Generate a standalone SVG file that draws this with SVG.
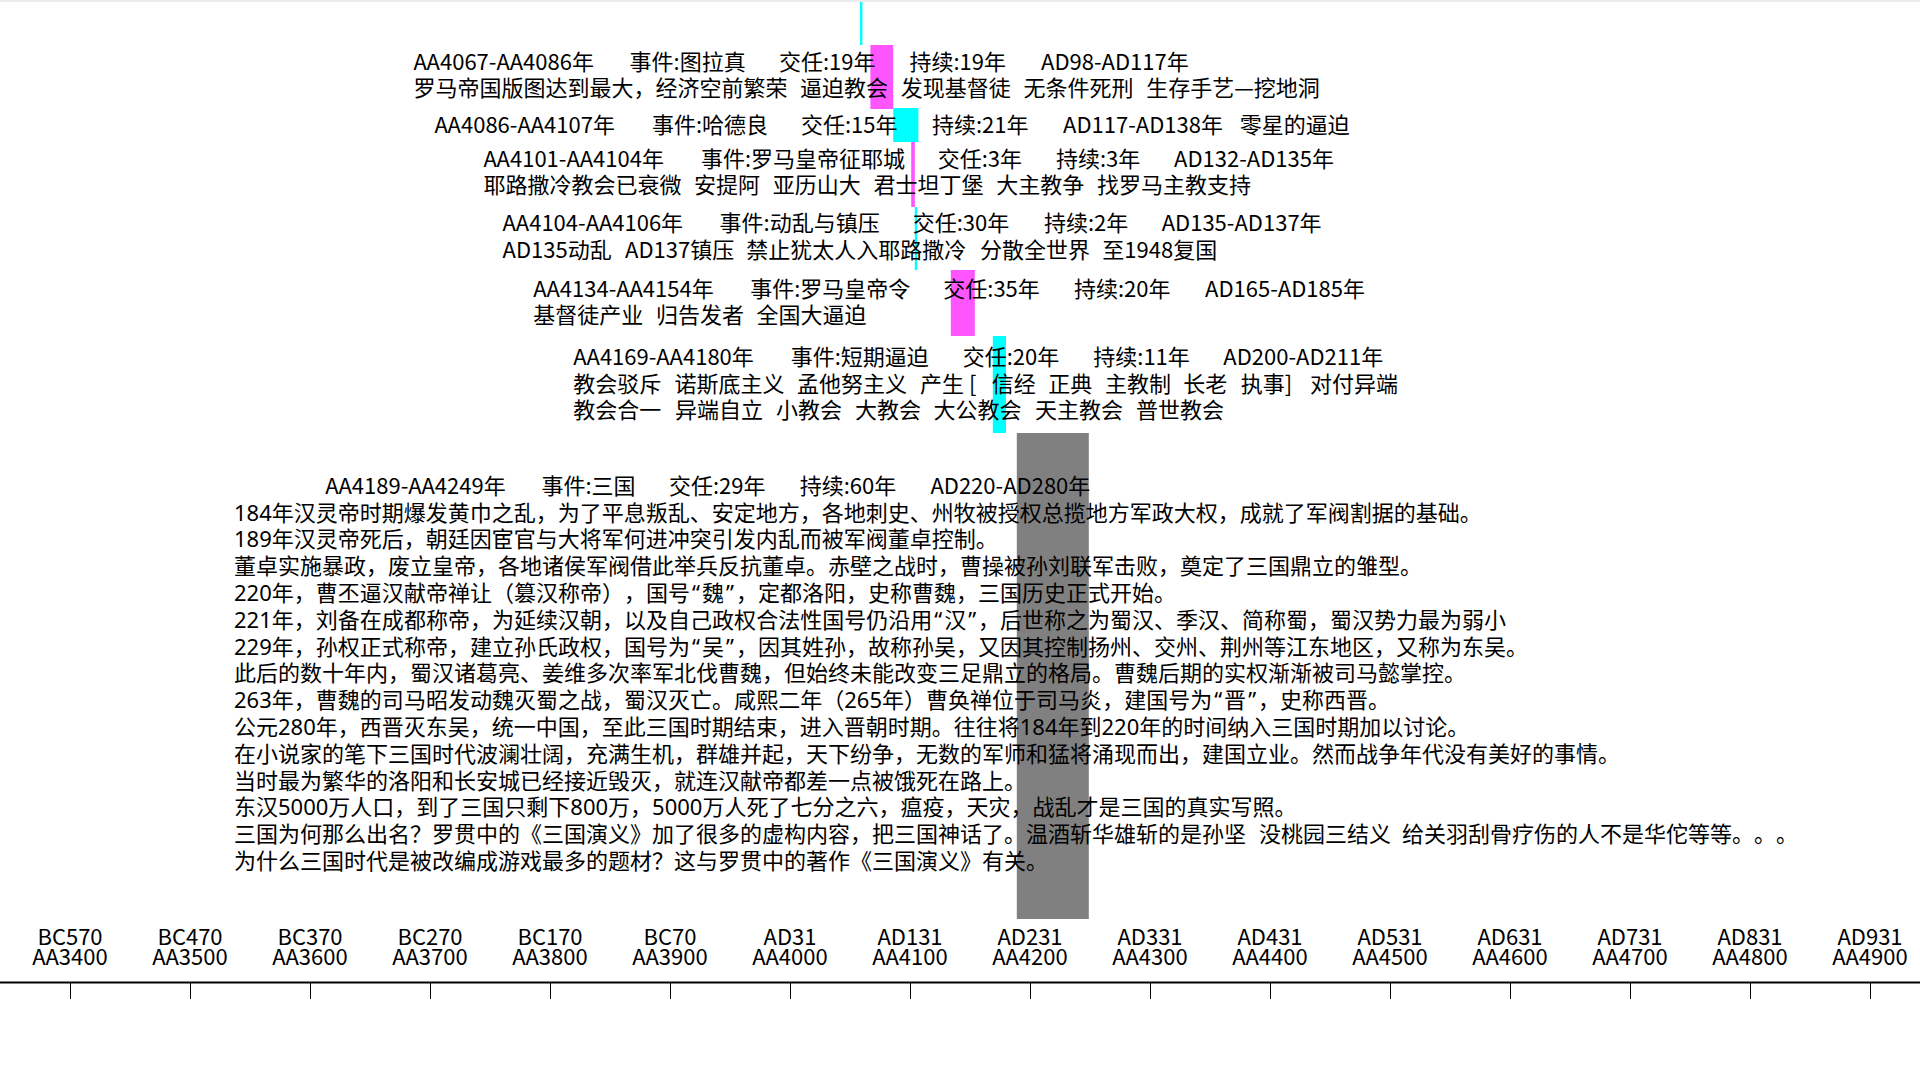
<svg xmlns="http://www.w3.org/2000/svg" width="1920" height="1080" viewBox="0 0 1920 1080">
<style>
text{font-family:"Noto Sans CJK SC","Noto Sans",sans-serif;font-size:22px;fill:#000;text-spacing-trim:space-all}
.p{font-family:"Noto Sans","Noto Sans CJK SC",sans-serif}
.ax{text-anchor:middle}
.mg{fill:#ff55ff}
.cy{fill:#00ffff}
.gr{fill:#808080}
.tick{stroke:#000;stroke-width:1}
</style>
<rect x="0" y="0" width="1920" height="1080" fill="#fff"/>
<rect x="860" y="0" width="2.4" height="45" class="cy"/>
<rect x="0" y="0" width="1920" height="2" fill="#ececec"/>

<g id="ev-trajan">
<rect x="870.4" y="45" width="22.8" height="64" class="mg"/>
<text y="70"><tspan x="413.4">AA4067-AA4086年</tspan><tspan x="629.6">事件:图拉真</tspan><tspan x="778.9">交任:19年</tspan><tspan x="909.4">持续:19年</tspan><tspan x="1041">AD98-AD117年</tspan></text>
<text y="96"><tspan x="413.4">罗马帝国版图达到最大，经济空前繁荣</tspan><tspan x="800.1">逼迫教会</tspan><tspan x="900.8">发现基督徒</tspan><tspan x="1023.5">无条件死刑</tspan><tspan x="1146.2">生存手艺—挖地洞</tspan></text>
</g>

<g id="ev-hadrian">
<rect x="893.2" y="108" width="25.2" height="34" class="cy"/>
<text y="133"><tspan x="434.4">AA4086-AA4107年</tspan><tspan x="652">事件:哈德良</tspan><tspan x="801">交任:15年</tspan><tspan x="932">持续:21年</tspan><tspan x="1063">AD117-AD138年</tspan><tspan x="1239.7">零星的逼迫</tspan></text>
</g>

<g id="ev-jerusalem">
<rect x="911.2" y="142" width="3.6" height="65" class="mg"/>
<text y="167"><tspan x="483.4">AA4101-AA4104年</tspan><tspan x="701">事件:罗马皇帝征耶城</tspan><tspan x="937.7">交任:3年</tspan><tspan x="1056">持续:3年</tspan><tspan x="1174">AD132-AD135年</tspan></text>
<text y="193"><tspan x="483.4">耶路撒冷教会已衰微</tspan><tspan x="694.1">安提阿</tspan><tspan x="772.8">亚历山大</tspan><tspan x="873.5">君士坦丁堡</tspan><tspan x="996.2">大主教争</tspan><tspan x="1096.9">找罗马主教支持</tspan></text>
</g>

<g id="ev-revolt">
<rect x="914.8" y="207" width="2.4" height="63" class="cy"/>
<text y="231"><tspan x="502.6">AA4104-AA4106年</tspan><tspan x="719.6">事件:动乱与镇压</tspan><tspan x="912.7">交任:30年</tspan><tspan x="1044">持续:2年</tspan><tspan x="1161.7">AD135-AD137年</tspan></text>
<text y="258"><tspan x="502.6">AD135动乱</tspan><tspan x="625">AD137镇压</tspan><tspan x="746.3">禁止犹太人入耶路撒冷</tspan><tspan x="980">分散全世界</tspan><tspan x="1102.3">至1948复国</tspan></text>
</g>

<g id="ev-edict">
<rect x="950.8" y="270" width="24" height="66" class="mg"/>
<text y="296.5"><tspan x="533.2">AA4134-AA4154年</tspan><tspan x="750.2">事件:罗马皇帝令</tspan><tspan x="943.3">交任:35年</tspan><tspan x="1074">持续:20年</tspan><tspan x="1205">AD165-AD185年</tspan></text>
<text y="323"><tspan x="533.2">基督徒产业</tspan><tspan x="655.9">归告发者</tspan><tspan x="756.6">全国大逼迫</tspan></text>
</g>

<g id="ev-short">
<rect x="992.8" y="336" width="13.2" height="97" class="cy"/>
<text y="365"><tspan x="573.3">AA4169-AA4180年</tspan><tspan x="790.7">事件:短期逼迫</tspan><tspan x="962.7">交任:20年</tspan><tspan x="1093.3">持续:11年</tspan><tspan x="1223.3">AD200-AD211年</tspan></text>
<text y="391.5"><tspan x="573.3">教会驳斥</tspan><tspan x="674.5">诺斯底主义</tspan><tspan x="797">孟他努主义</tspan><tspan x="920">产生</tspan><tspan x="969">[</tspan><tspan x="991.7">信经</tspan><tspan x="1048.3">正典</tspan><tspan x="1105">主教制</tspan><tspan x="1183.3">长老</tspan><tspan x="1240.7">执事]</tspan><tspan x="1310">对付异端</tspan></text>
<text y="418"><tspan x="573.3">教会合一</tspan><tspan x="675">异端自立</tspan><tspan x="776">小教会</tspan><tspan x="855">大教会</tspan><tspan x="933.5">大公教会</tspan><tspan x="1035">天主教会</tspan><tspan x="1136">普世教会</tspan></text>
</g>

<g id="ev-three-kingdoms">
<rect x="1016.8" y="433" width="72" height="486" class="gr"/>
<text y="494"><tspan x="325.2">AA4189-AA4249年</tspan><tspan x="541.5">事件:三国</tspan><tspan x="669">交任:29年</tspan><tspan x="799.7">持续:60年</tspan><tspan x="930.4">AD220-AD280年</tspan></text>
<text class="p" x="234" y="520.5">184年汉灵帝时期爆发黄巾之乱，为了平息叛乱、安定地方，各地刺史、州牧被授权总揽地方军政大权，成就了军阀割据的基础。</text>
<text class="p" x="234" y="547.3">189年汉灵帝死后，朝廷因宦官与大将军何进冲突引发内乱而被军阀董卓控制。</text>
<text class="p" x="234" y="574.1">董卓实施暴政，废立皇帝，各地诸侯军阀借此举兵反抗董卓。赤壁之战时，曹操被孙刘联军击败，奠定了三国鼎立的雏型。</text>
<text class="p" x="234" y="600.9" dx="0 0 0 0 0 0 0 0 0 0 0 0 0 0 0 0 0 0 0 0 0 0 2 2 2 2">220年，曹丕逼汉献帝禅让（篡汉称帝），国号“魏”，定都洛阳，史称曹魏，三国历史正式开始。</text>
<text class="p" x="234" y="627.7" dx="0 0 0 0 0 0 0 0 0 0 0 0 0 0 0 0 0 0 0 0 0 0 0 0 0 0 0 0 0 0 0 0 0 2 2 2 2">221年，刘备在成都称帝，为延续汉朝，以及自己政权合法性国号仍沿用“汉”，后世称之为蜀汉、季汉、简称蜀，蜀汉势力最为弱小</text>
<text class="p" x="234" y="654.5" dx="0 0 0 0 0 0 0 0 0 0 0 0 0 0 0 0 0 0 0 0 0 0 2 2 2 2">229年，孙权正式称帝，建立孙氏政权，国号为“吴”，因其姓孙，故称孙吴，又因其控制扬州、交州、荆州等江东地区，又称为东吴。</text>
<text class="p" x="234" y="681.3">此后的数十年内，蜀汉诸葛亮、姜维多次率军北伐曹魏，但始终未能改变三足鼎立的格局。曹魏后期的实权渐渐被司马懿掌控。</text>
<text class="p" x="234" y="708.1" dx="0 0 0 0 0 0 0 0 0 0 0 0 0 0 0 0 0 0 0 0 0 0 0 0 0 0 0 0 0 0 0 0 0 0 0 0 0 0 0 0 0 0 0 0 0 0 0 2 2 2 2">263年，曹魏的司马昭发动魏灭蜀之战，蜀汉灭亡。咸熙二年（265年）曹奂禅位于司马炎，建国号为“晋”，史称西晋。</text>
<text class="p" x="234" y="734.9">公元280年，西晋灭东吴，统一中国，至此三国时期结束，进入晋朝时期。往往将184年到220年的时间纳入三国时期加以讨论。</text>
<text class="p" x="234" y="761.7">在小说家的笔下三国时代波澜壮阔，充满生机，群雄并起，天下纷争，无数的军师和猛将涌现而出，建国立业。然而战争年代没有美好的事情。</text>
<text class="p" x="234" y="788.5">当时最为繁华的洛阳和长安城已经接近毁灭，就连汉献帝都差一点被饿死在路上。</text>
<text class="p" x="234" y="815.3">东汉5000万人口，到了三国只剩下800万，5000万人死了七分之六，瘟疫，天灾，战乱才是三国的真实写照。</text>
<text class="p" y="842.1"><tspan x="234">三国为何那么出名？罗贯中的《三国演义》加了很多的虚构内容，把三国神话了。温酒斩华雄斩的是孙坚</tspan><tspan x="1259">没桃园三结义</tspan><tspan x="1402">给关羽刮骨疗伤的人不是华佗等等。。。</tspan></text>
<text class="p" x="234" y="868.9">为什么三国时代是被改编成游戏最多的题材？这与罗贯中的著作《三国演义》有关。</text>
</g>

<g id="axis">
<line x1="0" y1="982.5" x2="1920" y2="982.5" stroke="#000" stroke-width="2"/>
<g class="tick">
<line x1="70.5" y1="983" x2="70.5" y2="999"/><line x1="190.5" y1="983" x2="190.5" y2="999"/><line x1="310.5" y1="983" x2="310.5" y2="999"/><line x1="430.5" y1="983" x2="430.5" y2="999"/><line x1="550.5" y1="983" x2="550.5" y2="999"/><line x1="670.5" y1="983" x2="670.5" y2="999"/><line x1="790.5" y1="983" x2="790.5" y2="999"/><line x1="910.5" y1="983" x2="910.5" y2="999"/><line x1="1030.5" y1="983" x2="1030.5" y2="999"/><line x1="1150.5" y1="983" x2="1150.5" y2="999"/><line x1="1270.5" y1="983" x2="1270.5" y2="999"/><line x1="1390.5" y1="983" x2="1390.5" y2="999"/><line x1="1510.5" y1="983" x2="1510.5" y2="999"/><line x1="1630.5" y1="983" x2="1630.5" y2="999"/><line x1="1750.5" y1="983" x2="1750.5" y2="999"/><line x1="1870.5" y1="983" x2="1870.5" y2="999"/>
</g>
<g class="ax">
<text x="70" y="945">BC570</text><text x="70" y="965">AA3400</text>
<text x="190" y="945">BC470</text><text x="190" y="965">AA3500</text>
<text x="310" y="945">BC370</text><text x="310" y="965">AA3600</text>
<text x="430" y="945">BC270</text><text x="430" y="965">AA3700</text>
<text x="550" y="945">BC170</text><text x="550" y="965">AA3800</text>
<text x="670" y="945">BC70</text><text x="670" y="965">AA3900</text>
<text x="790" y="945">AD31</text><text x="790" y="965">AA4000</text>
<text x="910" y="945">AD131</text><text x="910" y="965">AA4100</text>
<text x="1030" y="945">AD231</text><text x="1030" y="965">AA4200</text>
<text x="1150" y="945">AD331</text><text x="1150" y="965">AA4300</text>
<text x="1270" y="945">AD431</text><text x="1270" y="965">AA4400</text>
<text x="1390" y="945">AD531</text><text x="1390" y="965">AA4500</text>
<text x="1510" y="945">AD631</text><text x="1510" y="965">AA4600</text>
<text x="1630" y="945">AD731</text><text x="1630" y="965">AA4700</text>
<text x="1750" y="945">AD831</text><text x="1750" y="965">AA4800</text>
<text x="1870" y="945">AD931</text><text x="1870" y="965">AA4900</text>
</g>
</g>
</svg>
